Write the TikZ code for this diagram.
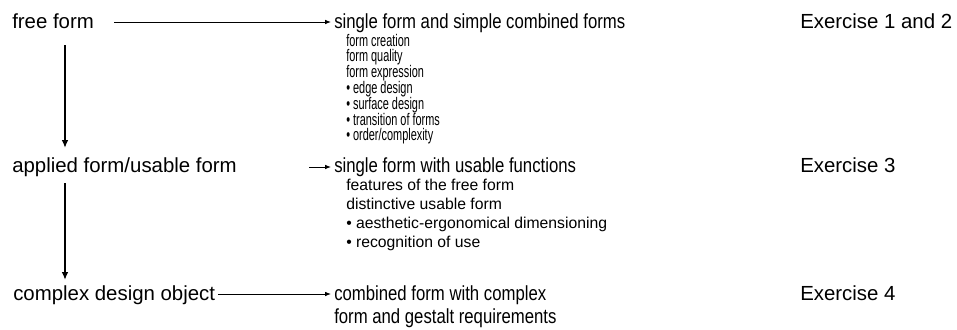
\documentclass[tikz,border=0pt]{standalone}
\usepackage{fontspec}
\setmainfont{Liberation Sans}
\newfontfamily\headfont[FakeStretch=0.82]{Liberation Sans}
\newfontfamily\listfont[FakeStretch=0.65]{Liberation Sans}
\usetikzlibrary{arrows.meta}
\tikzset{
  lvl/.style={anchor=base west, inner sep=0pt, font=\fontsize{15.3}{18}\selectfont},
  head/.style={lvl, font=\headfont\fontsize{15.3}{18}\selectfont},
  sub/.style={anchor=base west, inner sep=0pt, font=\listfont\fontsize{12.6}{14}\selectfont},
  subb/.style={anchor=base west, inner sep=0pt, font=\fontsize{11.8}{14}\selectfont},
  harr/.style={line width=0.7pt, -{Latex[length=4.5pt,width=3.5pt]}},
  varr/.style={line width=1.4pt, -{Latex[length=6pt,width=5pt]}},
}
\begin{document}
\begin{tikzpicture}[x=0.75pt, y=-0.75pt]
            \useasboundingbox (0,0) rectangle (957,329);
            % left column
            \node[lvl] (free) at (12,28) {free form};
            \node[lvl] (applied) at (12,172) {applied form/usable form};
            \node[lvl] (complex) at (13,300) {complex design object};
            % middle column
            \node[head] (single) at (334,28) {single form and simple combined forms};
            \node[sub] (fa) at (346,46) {form creation};
            \node[sub] (fb) at (346,61.8) {form quality};
            \node[sub] (fc) at (346,77.6) {form expression};
            \node[sub] (fd) at (346,93.4) {• edge design};
            \node[sub] (fe) at (346,109.2) {• surface design};
            \node[sub] (ff) at (346,125) {• transition of forms};
            \node[sub] (fg) at (346,140.8) {• order/complexity};
            \node[head] (usable) at (334,172) {single form with usable functions};
            \node[subb] (ua) at (346,190) {features of the free form};
            \node[subb] (ub) at (346,209) {distinctive usable form};
            \node[subb] (uc) at (346,228.3) {• aesthetic-ergonomical dimensioning};
            \node[subb] (ud) at (346,247.6) {• recognition of use};
            \node[head] (combined) at (334,300) {combined form with complex};
            \node[head] (gestalt) at (334,323) {form and gestalt requirements};
            % right column
            \node[lvl] (ex1) at (800,28) {Exercise 1 and 2};
            \node[lvl] (ex3) at (800,172) {Exercise 3};
            \node[lvl] (ex4) at (800,300) {Exercise 4};
            % connectors
            \coordinate (a2) at (309,167);
            \draw [harr] ([shift={(20,-6)}]free.base east) -- ([shift={(-3,-6)}]single.base west);
            \draw [harr] (a2) -- ([shift={(-3,-5)}]usable.base west);
            \draw [harr] ([shift={(3,-6)}]complex.base east) -- ([shift={(-3,-6)}]combined.base west);
            \draw [varr] ([shift={(53,17)}]free.base west) -- ([shift={(53,-24)}]applied.base west);
            \draw [varr] ([shift={(53,11)}]applied.base west) -- ([shift={(52,-20)}]complex.base west);
        \end{tikzpicture}
\end{document}
